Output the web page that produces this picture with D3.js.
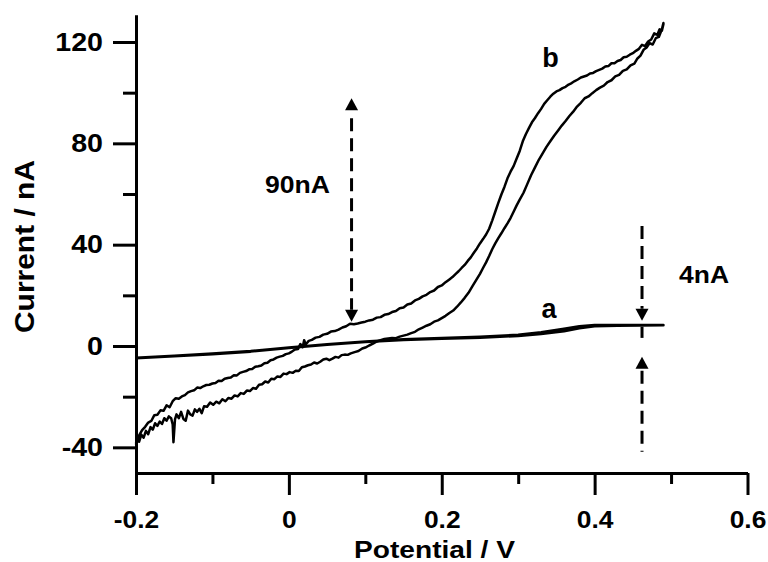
<!DOCTYPE html>
<html><head><meta charset="utf-8">
<script src="https://cdn.jsdelivr.net/npm/d3@7"></script>
<style>
body{margin:0;background:#fff}
svg{display:block}
text{font-family:"Liberation Sans",Arial,sans-serif;font-weight:bold;fill:#000}
</style>
</head><body>
<svg id="c" width="768" height="562"></svg>
<script>
// ---- tick data ----
const xTicks = [-0.2, 0, 0.2, 0.4, 0.6];
const xTickLabels = ["-0.2", "0", "0.2", "0.4", "0.6"];
const xMinorTicks = [-0.1, 0.1, 0.3, 0.5];
const yTicks = [-40, 0, 40, 80, 120];
const yTickLabels = ["-40", "0", "40", "80", "120"];
const yMinorTicks = [-20, 20, 60, 100];

// ---- curve b (forward sweep, lower branch) ----
const bForwardPotential = [-0.200,-0.198,-0.196,-0.193,-0.190,-0.187,-0.184,-0.181,-0.178,-0.175,-0.172,-0.169,-0.166,-0.163,-0.160,-0.157,-0.154,-0.152,-0.151,-0.149,-0.147,-0.144,-0.141,-0.138,-0.135,-0.132,-0.129,-0.126,-0.123,-0.120,-0.117,-0.114,-0.111,-0.107,-0.103,-0.099,-0.095,-0.091,-0.087,-0.083,-0.079,-0.075,-0.071,-0.067,-0.063,-0.059,-0.055,-0.051,-0.047,-0.043,-0.039,-0.035,-0.031,-0.027,-0.023,-0.019,-0.015,-0.011,-0.007,-0.003,0.001,0.005,0.009,0.013,0.017,0.021,0.025,0.029,0.033,0.037,0.041,0.045,0.049,0.053,0.057,0.061,0.065,0.069,0.073,0.077,0.081,0.086,0.091,0.096,0.100,0.105,0.110,0.115,0.120,0.125,0.130,0.135,0.140,0.145,0.150,0.155,0.160,0.165,0.170,0.175,0.180,0.185,0.190,0.195,0.200,0.205,0.210,0.215,0.220,0.225,0.230,0.235,0.240,0.245,0.250,0.254,0.258,0.262,0.266,0.270,0.274,0.278,0.282,0.286,0.290,0.294,0.298,0.302,0.307,0.312,0.317,0.322,0.327,0.332,0.337,0.342,0.347,0.352,0.357,0.362,0.367,0.372,0.377,0.382,0.387,0.392,0.397,0.402,0.407,0.412,0.417,0.422,0.427,0.432,0.437,0.442,0.447,0.452,0.456,0.460,0.464,0.468,0.472,0.476,0.480,0.484,0.488,0.490];
const bForwardCurrent = [-38.5,-35.5,-37.8,-35.0,-36.2,-33.5,-34.8,-32.0,-33.0,-30.5,-31.5,-29.8,-30.8,-28.5,-29.5,-27.8,-28.5,-31.0,-38.0,-29.0,-27.0,-28.5,-26.0,-28.8,-29.5,-25.5,-27.0,-27.5,-25.0,-26.0,-24.8,-26.5,-23.8,-24.0,-22.3,-23.2,-22.0,-22.6,-21.0,-21.8,-20.5,-20.8,-19.5,-19.9,-18.6,-18.9,-17.6,-17.8,-16.6,-16.9,-15.3,-15.1,-14.0,-14.4,-12.9,-13.1,-12.0,-12.2,-10.9,-11.1,-10.3,-10.6,-9.8,-9.9,-8.4,-8.1,-7.6,-7.3,-6.5,-6.9,-6.2,-5.3,-5.0,-5.6,-5.0,-4.3,-4.6,-3.6,-3.4,-3.5,-2.9,-2.4,-2.0,-1.0,-0.6,0.2,0.9,1.8,2.3,2.8,3.0,3.2,3.1,3.7,4.1,4.5,5.1,5.6,6.6,7.3,8.0,8.6,9.6,10.1,11.0,11.9,13.0,14.0,15.5,17.2,19.0,21.0,23.5,26.0,28.5,30.8,33.0,35.5,38.2,40.5,42.6,44.5,46.5,48.4,50.5,53.0,55.5,57.8,60.5,64.0,67.5,70.5,73.5,76.0,78.6,80.8,83.0,85.0,87.0,88.8,90.8,92.5,94.5,96.0,97.8,98.5,99.8,101.0,102.0,102.8,104.2,104.9,106.4,107.0,108.6,109.2,110.8,111.5,113.5,114.6,116.9,117.8,119.6,119.0,121.5,122.0,125.0,127.5];

// ---- curve b (reverse sweep, upper branch) ----
const bReversePotential = [0.490,0.488,0.485,0.482,0.478,0.474,0.470,0.466,0.462,0.458,0.454,0.450,0.446,0.442,0.438,0.434,0.430,0.426,0.422,0.418,0.414,0.410,0.406,0.402,0.398,0.394,0.390,0.386,0.382,0.378,0.374,0.370,0.366,0.362,0.358,0.354,0.350,0.346,0.342,0.338,0.334,0.330,0.326,0.322,0.318,0.314,0.310,0.306,0.302,0.298,0.294,0.290,0.286,0.282,0.278,0.274,0.270,0.266,0.262,0.258,0.254,0.250,0.246,0.242,0.238,0.234,0.230,0.226,0.222,0.218,0.214,0.210,0.205,0.200,0.195,0.190,0.185,0.180,0.175,0.170,0.165,0.160,0.155,0.150,0.145,0.140,0.135,0.130,0.125,0.120,0.115,0.110,0.105,0.100,0.095,0.090,0.085,0.080,0.075,0.070,0.065,0.060,0.055,0.050,0.045,0.040,0.035,0.030,0.026,0.022,0.020,0.018,0.015,0.012,0.008,0.004,0.000,-0.004,-0.008,-0.012,-0.016,-0.020,-0.024,-0.028,-0.032,-0.036,-0.040,-0.044,-0.048,-0.052,-0.056,-0.060,-0.064,-0.068,-0.072,-0.076,-0.080,-0.084,-0.088,-0.092,-0.096,-0.100,-0.104,-0.108,-0.112,-0.116,-0.120,-0.124,-0.128,-0.132,-0.136,-0.140,-0.144,-0.148,-0.152,-0.156,-0.160,-0.164,-0.168,-0.172,-0.176,-0.180,-0.184,-0.188,-0.192,-0.195,-0.198,-0.200];
const bReverseCurrent = [127.0,124.5,125.0,122.8,123.4,121.0,120.2,118.4,118.9,117.3,116.5,115.6,115.0,114.2,114.0,112.9,112.5,111.6,111.6,110.5,110.3,109.5,109.0,108.5,107.8,107.6,106.8,106.4,106.0,105.2,104.6,103.8,103.2,102.3,101.8,101.0,100.5,99.6,98.4,97.0,95.6,93.6,91.9,90.0,88.3,86.0,83.6,80.8,77.0,74.0,71.0,68.8,66.2,62.8,59.8,56.5,53.0,49.5,46.3,44.0,42.2,40.5,38.5,36.8,35.0,33.6,32.0,30.8,29.5,28.4,27.2,26.3,25.2,23.9,23.3,21.9,21.3,20.2,19.6,18.6,18.0,16.8,16.4,15.2,14.9,13.8,13.4,12.6,12.3,11.4,11.2,10.4,10.1,9.6,9.3,8.9,8.6,8.8,7.8,7.3,6.5,5.9,5.7,4.8,4.5,3.6,3.3,2.4,2.0,0.6,2.3,-0.5,0.8,-1.2,-1.4,-2.2,-2.9,-3.2,-3.9,-4.2,-4.6,-5.3,-5.6,-6.6,-6.8,-7.7,-8.0,-8.2,-9.1,-9.2,-9.9,-10.2,-10.6,-11.6,-11.5,-12.4,-12.6,-12.9,-13.8,-13.7,-14.6,-14.8,-15.3,-15.4,-15.9,-16.6,-16.4,-17.5,-17.8,-18.3,-19.4,-19.9,-20.8,-20.6,-21.8,-24.2,-23.4,-25.6,-25.4,-27.1,-27.3,-29.6,-30.2,-31.9,-33.2,-34.8,-36.5,-39.0];

// ---- curve a ----
const aForwardPotential = [-0.200,-0.150,-0.100,-0.050,0.000,0.050,0.100,0.150,0.200,0.250,0.300,0.330,0.360,0.380,0.400,0.430,0.460,0.490];
const aForwardCurrent = [-4.8,-4.0,-3.2,-2.2,-0.8,0.5,1.6,2.4,2.9,3.3,4.0,4.8,5.8,7.0,7.8,8.0,8.1,8.2];
const aReversePotential = [0.490,0.460,0.430,0.400,0.380,0.360,0.330,0.300,0.250,0.200,0.150,0.100,0.050,0.000,-0.050,-0.100,-0.150,-0.200];
const aReverseCurrent = [8.3,8.3,8.3,8.3,7.8,6.8,5.4,4.4,3.6,3.1,2.6,1.8,0.7,-0.6,-2.0,-3.0,-3.9,-4.7];

// ---- layout ----
const svg = d3.select("#c");
const x = d3.scaleLinear().domain([-0.2, 0.6]).range([136, 747.5]);
const y = d3.scaleLinear().domain([-50.13, 130.66]).range([473, 15]);

function stretch(sel, factor){
  sel.each(function(){
    const w = this.getComputedTextLength();
    d3.select(this).attr("textLength", w*factor).attr("lengthAdjust","spacingAndGlyphs");
  });
}

// Axes
const gx = svg.append("g").attr("transform", `translate(0,${y.range()[0]})`)
  .call(d3.axisBottom(x).tickValues(xTicks).tickFormat((d,i)=>xTickLabels[i]).tickSizeInner(22).tickSizeOuter(0).tickPadding(16));
const gxm = svg.append("g").attr("transform", `translate(0,${y.range()[0]})`)
  .call(d3.axisBottom(x).tickValues(xMinorTicks).tickFormat("").tickSizeInner(11).tickSizeOuter(0));
const gy = svg.append("g").attr("transform", `translate(${x.range()[0]},0)`)
  .call(d3.axisLeft(y).tickValues(yTicks).tickFormat((d,i)=>yTickLabels[i]).tickSizeInner(23).tickSizeOuter(0).tickPadding(10));
const gym = svg.append("g").attr("transform", `translate(${x.range()[0]},0)`)
  .call(d3.axisLeft(y).tickValues(yMinorTicks).tickFormat("").tickSizeInner(13).tickSizeOuter(0));

[gx,gxm,gy,gym].forEach(g=>{
  g.selectAll("path.domain").attr("stroke","#000").attr("stroke-width",3);
  g.selectAll(".tick line").attr("stroke","#000").attr("stroke-width",3);
});
gx.selectAll(".tick text").attr("font-size",24).attr("font-family",null).attr("fill","#000");
gy.selectAll(".tick text").attr("font-size",26).attr("font-family",null).attr("fill","#000");
stretch(gx.selectAll(".tick text"), 1.1);
stretch(gy.selectAll(".tick text"), 1.1);

// Axis titles
svg.append("text").attr("x", 434.5).attr("y", 558).attr("text-anchor","middle")
  .attr("font-size",24).attr("textLength",161).attr("lengthAdjust","spacingAndGlyphs")
  .text("Potential / V");
svg.append("text").attr("transform","translate(34,246.5) rotate(-90)").attr("text-anchor","middle")
  .attr("font-size",28).attr("textLength",173).attr("lengthAdjust","spacingAndGlyphs")
  .text("Current / nA");

// Curves
const line = d3.line().x(d=>x(d[0])).y(d=>y(d[1]));
function zip(a,b){ return a.map((v,i)=>[v,b[i]]); }
const curveA = zip(aForwardPotential,aForwardCurrent).concat(zip(aReversePotential,aReverseCurrent));
const curveB = zip(bForwardPotential,bForwardCurrent).concat(zip(bReversePotential,bReverseCurrent));
svg.append("path").attr("d", line(curveA)).attr("fill","none").attr("stroke","#000").attr("stroke-width",2.6).attr("stroke-linejoin","round");
svg.append("path").attr("d", line(curveB)).attr("fill","none").attr("stroke","#000").attr("stroke-width",2.5).attr("stroke-linejoin","round");

// Arrows
function arrowHead(xp, tipY, dir){ // dir: +1 pointing down, -1 pointing up
  const h = 12, w = 6.5;
  return `M${xp},${tipY} L${xp-w},${tipY-dir*h} L${xp+w},${tipY-dir*h} Z`;
}
function dashed(xp, y1, y2){
  svg.append("line").attr("x1",xp).attr("x2",xp).attr("y1",y1).attr("y2",y2)
    .attr("stroke","#000").attr("stroke-width",3).attr("stroke-dasharray","13,7");
}
// 90 nA arrow
const ax90 = x(0.082);
const top90 = y(97.8), bot90 = y(9.6);
svg.append("path").attr("d", arrowHead(ax90, top90, -1)).attr("fill","#000");
svg.append("path").attr("d", arrowHead(ax90, bot90, 1)).attr("fill","#000");
dashed(ax90, top90+20, bot90-12);
svg.append("text").attr("x",265).attr("y",193).attr("font-size",24)
  .attr("textLength",65).attr("lengthAdjust","spacingAndGlyphs").text("90nA");

// 4 nA arrows
const ax4 = x(0.462);
dashed(ax4, y(47.4), y(10.0)-12);
svg.append("path").attr("d", arrowHead(ax4, y(10.0), 1)).attr("fill","#000");
svg.append("line").attr("x1",ax4).attr("x2",ax4).attr("y1",y(7.6)).attr("y2",y(3.2)).attr("stroke","#000").attr("stroke-width",3);
svg.append("path").attr("d", arrowHead(ax4, y(-4.2), -1)).attr("fill","#000");
dashed(ax4, y(-4.2)+14, y(-41.7));
svg.append("text").attr("x",679).attr("y",283).attr("font-size",24)
  .attr("textLength",50).attr("lengthAdjust","spacingAndGlyphs").text("4nA");

// Curve labels
svg.append("text").attr("x",549).attr("y",318).attr("text-anchor","middle").attr("font-size",27).text("a");
svg.append("text").attr("x",550.5).attr("y",66.5).attr("text-anchor","middle").attr("font-size",27).text("b");
</script>
</body></html>
